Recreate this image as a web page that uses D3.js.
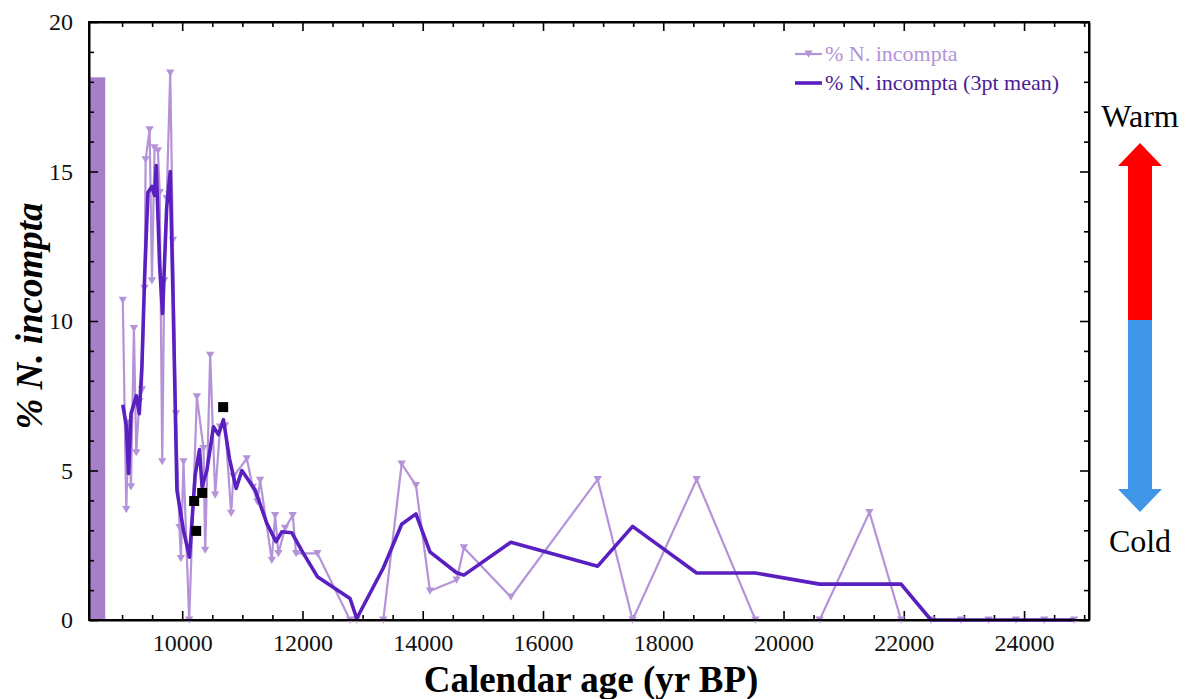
<!DOCTYPE html>
<html lang="en">
<head>
<meta charset="UTF-8">
<title>% N. incompta vs calendar age</title>
<script src="https://d3js.org/d3.v7.min.js"></script>
<style>
    body { margin: 0; background: #fff; }
    svg text { font-family: "Liberation Serif", "Times New Roman", serif; }
    .axis path { stroke: #000; stroke-width: 2px; }
    .axis line { stroke: #000; stroke-width: 1.6px; }
    .axis text { font-size: 24px; fill: #111; }
</style>
</head>
<body>
<div id="chart"></div>
<script>
// raw % N. incompta (age, value)
const rawAge = [9012, 9070, 9108, 9148, 9197, 9236, 9286, 9330, 9374, 9392, 9458, 9497, 9540, 9596, 9626, 9668,
    9701, 9742, 9801, 9845, 9895, 9955, 9978, 10021, 10116, 10244, 10354, 10382, 10465, 10548, 10631, 10714,
    10814, 10852, 11074, 11174, 11250, 11296, 11490, 11545, 11600, 11711, 11838, 11894, 12248, 12791, 12902,
    13344, 13650, 13887, 14120, 14563, 14684, 15465, 16910, 17490, 18555, 19533, 20600, 21429, 21955, 22453,
    22951, 23410, 23865, 24336, 24834];
const rawPct = [10.7, 3.7, 6.6, 4.46, 9.75, 5.6, 7.3, 7.7, 11.1, 15.4, 16.4, 11.35, 15.8, 15.7, 14.3, 5.3,
    11.35, 14.1, 18.3, 12.7, 6.9, 3.1, 2.06, 5.3, 0, 7.47, 5.74, 2.34, 8.86, 4.18, 6.46, 6.5,
    3.57, 4.8, 5.4, 4.44, 3.96, 4.68, 2.0, 3.5, 2.23, 3.07, 3.5, 2.23, 2.23, 0, 0,
    0, 5.22, 4.5, 0.97, 1.34, 2.42, 0.77, 4.7, 0, 4.7, 0, 0, 3.6, 0, 0,
    0, 0, 0, 0, 0];

// 3pt running mean as drawn
const meanAge = [9012, 9070, 9108, 9148, 9236, 9286, 9330, 9374, 9430, 9497, 9540, 9568, 9626, 9673, 9742, 9801,
    9845, 9912, 10021, 10121, 10216, 10288, 10330, 10410, 10520, 10603, 10686, 10786, 10897, 10992, 11213,
    11407, 11561, 11656, 11822, 12015, 12248, 12791, 12902, 13344, 13650, 13887, 14120, 14563, 14684, 15465,
    16910, 17490, 18555, 19533, 20600, 21429, 21955, 22453, 22951, 23410, 23865, 24336, 24834];
const meanPct = [7.2, 6.5, 4.9, 6.9, 7.5, 6.9, 8.5, 11.4, 14.3, 14.5, 14.2, 15.2, 11.8, 10.25, 13.8, 15.0,
    11.0, 4.35, 3.0, 2.1, 4.85, 5.7, 4.46, 5.0, 6.46, 6.2, 6.7, 5.4, 4.4, 5.0, 4.35,
    3.23, 2.62, 2.95, 2.92, 2.23, 1.45, 0.72, 0.05, 1.74, 3.2, 3.55, 2.28, 1.58, 1.5, 2.6,
    1.8, 3.13, 1.57, 1.57, 1.2, 1.2, 1.2, 0, 0, 0, 0, 0, 0];

// black squares
const sqAge = [10199, 10233, 10332, 10681];
const sqPct = [3.98, 2.98, 4.25, 7.12];

// shaded bar at the young end
const barAge = [8450, 8720];
const barPct = 18.15;

const xTicks = [10000, 12000, 14000, 16000, 18000, 20000, 22000, 24000];
const yTicks = [0, 5, 10, 15, 20];

const W = 1188, H = 699;
const mLeft = 89, mRight = 1089, mTop = 22, mBottom = 620;
const serif = "'Liberation Serif', 'Times New Roman', serif";

const lightCol = "#b493d9", darkCol = "#5a1fc0", barCol = "#a580c8";

const svg = d3.select("#chart").append("svg")
    .attr("width", W).attr("height", H);

const x = d3.scaleLinear().domain([8450, 25080]).range([mLeft, mRight]);
const y = d3.scaleLinear().domain([0, 20]).range([mBottom, mTop]);

const minorX = d3.range(9000, 25001, 500).filter(d => d % 2000 !== 0);
const minorY = d3.range(0, 21, 1).filter(d => d % 5 !== 0);

// bar
svg.append("rect")
    .attr("x", x(barAge[0]))
    .attr("y", y(barPct))
    .attr("width", x(barAge[1]) - x(barAge[0]))
    .attr("height", y(0) - y(barPct))
    .attr("fill", barCol);

// minor ticks (inward, all four sides)
function minor(axis, ticks, tr) {
    const g = svg.append("g").attr("class", "axis").attr("transform", tr)
        .call(axis.tickValues(ticks).tickSize(-5).tickFormat(""));
    g.select(".domain").remove();
}
minor(d3.axisBottom(x), minorX, `translate(0,${mBottom})`);
minor(d3.axisTop(x), minorX, `translate(0,${mTop})`);
minor(d3.axisLeft(y), minorY, `translate(${mLeft},0)`);
minor(d3.axisRight(y), minorY, `translate(${mRight},0)`);

// major axes
const gx = svg.append("g").attr("class", "axis").attr("transform", `translate(0,${mBottom})`)
    .call(d3.axisBottom(x).tickValues(xTicks).tickSize(-9).tickPadding(14).tickSizeOuter(0).tickFormat(d3.format("d")));
svg.append("g").attr("class", "axis").attr("transform", `translate(0,${mTop})`)
    .call(d3.axisTop(x).tickValues(xTicks).tickSize(-9).tickSizeOuter(0).tickFormat(""));
const gy = svg.append("g").attr("class", "axis").attr("transform", `translate(${mLeft},0)`)
    .call(d3.axisLeft(y).tickValues(yTicks).tickSize(-9).tickPadding(16).tickSizeOuter(0).tickFormat(d3.format("d")));
svg.append("g").attr("class", "axis").attr("transform", `translate(${mRight},0)`)
    .call(d3.axisRight(y).tickValues(yTicks).tickSize(-9).tickSizeOuter(0).tickFormat(""));

[gx, gy].forEach(g => {
    g.attr("font-family", serif).attr("font-size", 24);
    g.selectAll("text").style("font-family", serif).style("font-size", "24px");
});

// raw series
const raw = rawAge.map((a, i) => ({ a: a, v: rawPct[i] }));
const mean = meanAge.map((a, i) => ({ a: a, v: meanPct[i] }));
const line = d3.line().x(d => x(d.a)).y(d => y(d.v));

svg.append("path").datum(raw)
    .attr("d", line)
    .attr("fill", "none")
    .attr("stroke", lightCol)
    .attr("stroke-width", 2.2);

const tri = d3.symbol().type(d3.symbolTriangle).size(30);
svg.append("g").selectAll("path")
    .data(raw)
    .enter()
    .append("path")
    .attr("d", tri)
    .attr("transform", d => `translate(${x(d.a)},${y(d.v) - 1}) rotate(180)`)
    .attr("fill", lightCol);

svg.append("path").datum(mean)
    .attr("d", line)
    .attr("fill", "none")
    .attr("stroke", darkCol)
    .attr("stroke-width", 3.6)
    .attr("stroke-linejoin", "round");

// black squares
svg.append("g").selectAll("rect")
    .data(sqAge)
    .enter()
    .append("rect")
    .attr("x", d => x(d) - 5)
    .attr("y", (d, i) => y(sqPct[i]) - 5)
    .attr("width", 10).attr("height", 10)
    .attr("fill", "#000");

// legend
const lg = svg.append("g");
lg.append("line").attr("x1", 795).attr("x2", 822).attr("y1", 54).attr("y2", 54)
    .attr("stroke", lightCol).attr("stroke-width", 2.2);
lg.append("path").attr("d", tri).attr("transform", "translate(808.5,53) rotate(180)").attr("fill", lightCol);
lg.append("text").attr("x", 825).attr("y", 61).attr("font-size", 22).attr("fill", lightCol).text("% N. incompta");
lg.append("line").attr("x1", 795).attr("x2", 822).attr("y1", 83).attr("y2", 83)
    .attr("stroke", darkCol).attr("stroke-width", 3.6);
lg.append("text").attr("x", 825).attr("y", 90).attr("font-size", 22).attr("fill", "#4a1d9a").text("% N. incompta (3pt mean)");

// frame
svg.append("rect")
    .attr("x", mLeft).attr("y", mTop)
    .attr("width", mRight - mLeft).attr("height", mBottom - mTop)
    .attr("fill", "none").attr("stroke", "#000").attr("stroke-width", 2);

// axis titles
svg.append("text")
    .attr("x", 591).attr("y", 692)
    .attr("text-anchor", "middle")
    .attr("font-size", 37).attr("font-weight", "bold")
    .text("Calendar age (yr BP)");

svg.append("text")
    .attr("transform", "translate(42,316) rotate(-90)")
    .attr("text-anchor", "middle")
    .attr("font-size", 37).attr("font-weight", "bold").attr("font-style", "italic")
    .text("% N. incompta");

// warm / cold arrow
const ax = 1140;
svg.append("text").attr("x", ax).attr("y", 127).attr("text-anchor", "middle")
    .attr("font-size", 32).text("Warm");
svg.append("text").attr("x", ax).attr("y", 552).attr("text-anchor", "middle")
    .attr("font-size", 32).text("Cold");
svg.append("rect").attr("x", ax - 12).attr("y", 165).attr("width", 24).attr("height", 155).attr("fill", "#ff0000");
svg.append("path").attr("d", `M${ax - 22},166 L${ax + 22},166 L${ax},143 Z`).attr("fill", "#ff0000");
svg.append("rect").attr("x", ax - 12).attr("y", 320).attr("width", 24).attr("height", 170).attr("fill", "#3f95e6");
svg.append("path").attr("d", `M${ax - 22},489 L${ax + 22},489 L${ax},512 Z`).attr("fill", "#3f95e6");
</script>
</body>
</html>
